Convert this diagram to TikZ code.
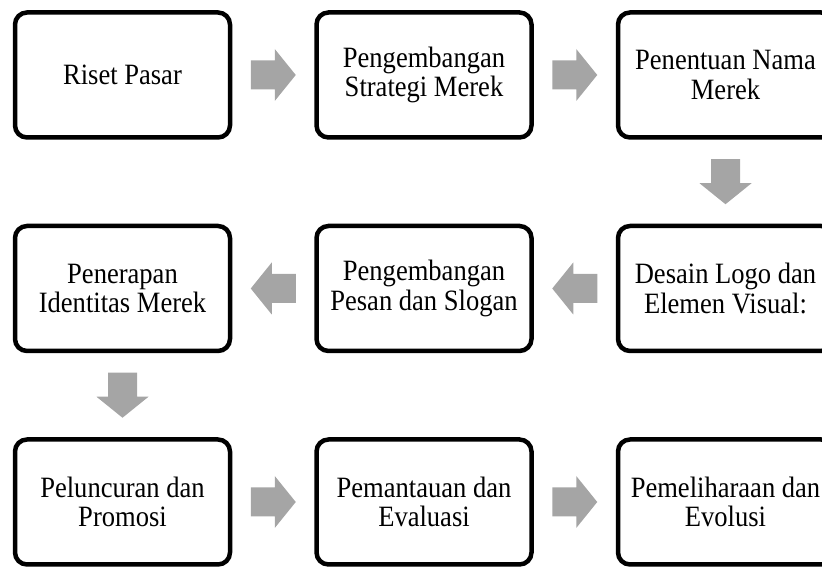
\documentclass[tikz,border=0pt]{standalone}
\usepackage{fontspec}
\setmainfont{Liberation Serif}[FakeStretch=0.9]
\usetikzlibrary{
  positioning,
  calc
}
\definecolor{arrowgray}{HTML}{A5A5A5}
\tikzstyle{stepbox}=[draw, line width=4.5pt, rounded corners=12pt, minimum width=215pt, minimum height=125pt, align=center, font=\fontsize{29.5}{29.5}\selectfont]
\tikzset{
  blockarrow/.pic={
    \fill[arrowgray] (-22.5,-14.5) -- (1.5,-14.5) -- (1.5,-26) -- (22.5,0) -- (1.5,26) -- (1.5,14.5) -- (-22.5,14.5) -- cycle;
  }
}

\begin{document}
\begin{tikzpicture}[x=1pt, y=1pt, node distance=84pt and 82pt]
        % bounding box
        \useasboundingbox (0,0) rectangle (822,567);
        \clip (0,0) rectangle (822,567);

        % baris pertama
        \node[stepbox] (b1) at (122.5,492) {Riset Pasar};
        \node[stepbox, right=of b1] (b2) {Pengembangan\\Strategi Merek};
        \node[stepbox, right=of b2] (b3) {Penentuan Nama\\Merek};

        % baris kedua
        \node[stepbox, below=of b3] (b4) {Desain Logo dan\\Elemen Visual:};
        \node[stepbox, left=of b4] (b5) {Pengembangan\\Pesan dan Slogan};
        \node[stepbox, left=of b5] (b6) {Penerapan\\Identitas Merek};

        % baris ketiga
        \node[stepbox, below=of b6] (b7) {Peluncuran dan\\Promosi};
        \node[stepbox, right=of b7] (b8) {Pemantauan dan\\Evaluasi};
        \node[stepbox, right=of b8] (b9) {Pemeliharaan dan\\Evolusi};

        % panah
        \pic at ($(b1.east)!0.5!(b2.west)$) {blockarrow};
        \pic at ($(b2.east)!0.5!(b3.west)$) {blockarrow};
        \pic[rotate=-90] at ($(b3.south)!0.5!(b4.north)$) {blockarrow};
        \pic[rotate=180] at ($(b4.west)!0.5!(b5.east)$) {blockarrow};
        \pic[rotate=180] at ($(b5.west)!0.5!(b6.east)$) {blockarrow};
        \pic[rotate=-90] at ($(b6.south)!0.5!(b7.north)$) {blockarrow};
        \pic at ($(b7.east)!0.5!(b8.west)$) {blockarrow};
        \pic at ($(b8.east)!0.5!(b9.west)$) {blockarrow};
\end{tikzpicture}
\end{document}
